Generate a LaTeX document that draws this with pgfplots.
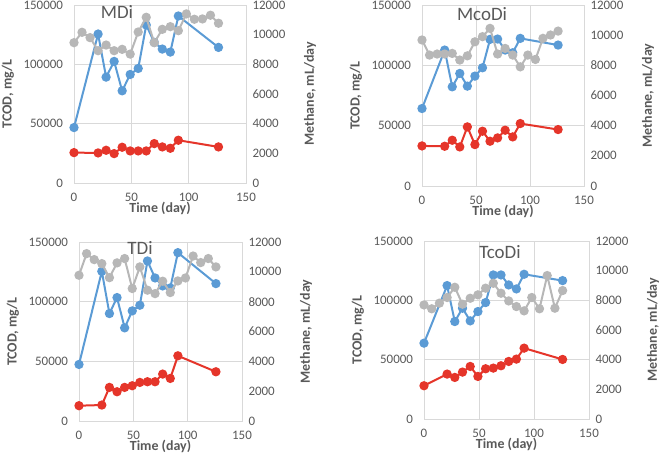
\documentclass[border=0pt]{standalone}
\usepackage{fontspec}
\setmainfont{Carlito}
\usepackage{pgfplots}
\pgfplotsset{compat=1.18}
\definecolor{cblue}{HTML}{5B9BD5}
\definecolor{cred}{HTML}{E5352A}
\definecolor{cgrey}{HTML}{B7B7B7}
\definecolor{ctxt}{HTML}{595959}
\definecolor{cgrid}{HTML}{D9D9D9}
\pgfplotsset{
  base/.style={scale only axis, xmin=0, xmax=150, clip=false,
    font=\fontsize{13}{15}\selectfont,
    scaled y ticks=false, scaled x ticks=false,
    tick style={draw=none},
    ticklabel style={color=ctxt, font=\fontsize{13}{15}\selectfont},
    label style={color=ctxt, font=\fontsize{14}{16}\selectfont\bfseries},
  },
  leftax/.style={base, ymin=0, ymax=150000,
    ytick={0,50000,100000,150000}, yticklabels={0,50000,100000,150000},
    xtick={0,50,100,150}, xticklabels={0,50,100,150},
    grid=major, major grid style={cgrid, line width=0.8pt},
    axis line style={cgrid, line width=0.8pt},
    yticklabel style={xshift=-7.5bp},
    xticklabel style={yshift=-6.5bp},
    xlabel={Time (day)}, ylabel={TCOD, mg/L},
    xlabel style={at={([yshift=-18.5bp]axis description cs:0.5,0)}, anchor=north, inner sep=0pt},
    ylabel style={at={([xshift=-66bp]axis description cs:0,0.5)}, anchor=center},
  },
  rightax/.style={base, ymin=0, ymax=12000,
    ytick={0,2000,4000,6000,8000,10000,12000},
    yticklabels={0,2000,4000,6000,8000,10000,12000},
    axis x line=none, axis y line*=right,
    axis line style={cgrid, line width=0.8pt},
    yticklabel style={xshift=3bp},
    ylabel={Methane, mL/day},
    ylabel style={at={([xshift=64bp]axis description cs:1,0.5)}, anchor=center},
  },
  bl/.style={color=cblue, line width=2bp, mark=*, mark size=3.6bp, mark options={solid, fill=cblue, draw=cblue}},
  rd/.style={color=cred, line width=2bp, mark=*, mark size=3.6bp, mark options={solid, fill=cred, draw=cred}},
  gr/.style={color=cgrey, line width=2bp, mark=*, mark size=3.6bp, mark options={solid, fill=cgrey, draw=cgrey}},
}
\newcommand{\ttl}[1]{{\color{ctxt}\fontsize{19}{21}\selectfont #1}}
\begin{document}
\begin{tikzpicture}
\useasboundingbox (0,0) rectangle (660bp,460bp);
% ---------------- MDi
\begin{axis}[leftax, at={(74bp,277bp)}, anchor=south west, width=172bp, height=178bp]
\addplot[bl] coordinates {(0,46720) (21,125530) (28,89220) (35,102450) (42,77680) (49,91470) (56,96540) (63,133130) (70,118490) (77,112860) (84,110330) (91,140730) (126,114270)};
\addplot[rd] coordinates {(0,25610) (21,25330) (28,27580) (35,24770) (42,30120) (49,27020) (56,27020) (63,27020) (70,33210) (77,30400) (84,29270) (91,36030) (126,30400)};
\end{axis}
\begin{axis}[rightax, at={(74bp,277bp)}, anchor=south west, width=172bp, height=178bp]
\addplot[gr] coordinates {(0,9460) (7,10160) (14,9800) (21,8920) (28,9300) (35,8920) (42,9010) (49,8690) (56,10180) (63,11170) (70,9460) (77,10360) (84,10540) (91,10270) (98,11400) (105,11040) (112,11060) (119,11310) (126,10770)};
\end{axis}
% ---------------- McoDi
\begin{axis}[leftax, at={(422bp,274bp)}, anchor=south west, width=162bp, height=181bp]
\addplot[bl] coordinates {(0,64210) (21,112650) (28,82200) (35,93270) (42,82760) (49,91060) (56,97980) (63,121510) (70,121780) (77,112650) (84,110430) (91,122340) (126,116800)};
\addplot[rd] coordinates {(0,33210) (21,32940) (28,37920) (35,32380) (42,48990) (49,34320) (56,45390) (63,37090) (70,39860) (77,46220) (84,40690) (91,51760) (126,46780)};
\end{axis}
\begin{axis}[rightax, at={(422bp,274bp)}, anchor=south west, width=162bp, height=181bp]
\addplot[gr] coordinates {(0,9680) (7,8680) (14,8750) (21,8750) (28,8790) (35,8350) (42,8630) (49,9560) (56,9900) (63,10450) (70,8750) (77,9120) (84,8680) (91,7900) (98,8680) (105,8390) (112,9790) (119,10010) (126,10270)};
\end{axis}
% ---------------- TDi
\begin{axis}[leftax, at={(79bp,39bp)}, anchor=south west, width=163bp, height=179bp]
\addplot[bl] coordinates {(0,47390) (21,125450) (28,90050) (35,103430) (42,78060) (49,92280) (56,97020) (63,134090) (70,119880) (77,113190) (84,111510) (91,141060) (126,115140)};
\addplot[rd] coordinates {(0,12820) (21,13380) (28,28160) (35,24530) (42,28160) (49,29550) (56,32340) (63,32900) (70,32900) (77,39310) (84,35680) (91,54640) (126,41260)};
\end{axis}
\begin{axis}[rightax, at={(79bp,39bp)}, anchor=south west, width=163bp, height=179bp]
\addplot[gr] coordinates {(0,9770) (7,11220) (14,10820) (21,10550) (28,9610) (35,10600) (42,10890) (49,8880) (56,10330) (63,8770) (70,8540) (77,9370) (84,8610) (91,9390) (98,9590) (105,11060) (112,10620) (119,10890) (126,10330)};
\end{axis}
% ---------------- TcoDi
\begin{axis}[leftax, at={(424bp,41bp)}, anchor=south west, width=165bp, height=178bp]
\addplot[bl] coordinates {(0,63920) (21,112420) (28,82140) (35,93360) (42,82700) (49,90550) (56,98120) (63,121390) (70,121390) (77,112980) (84,109620) (91,121950) (126,116620)};
\addplot[rd] coordinates {(0,28030) (21,37850) (28,35040) (35,39530) (42,44290) (49,35880) (56,42330) (63,42890) (70,44860) (77,48500) (84,50460) (91,59710) (126,50180)};
\end{axis}
\begin{axis}[rightax, at={(424bp,41bp)}, anchor=south west, width=165bp, height=178bp]
\addplot[gr] coordinates {(0,7690) (7,7430) (14,7810) (21,8190) (28,8880) (35,7740) (42,8140) (49,8370) (56,8820) (63,9150) (70,8480) (77,7960) (84,7580) (91,7290) (98,8190) (105,7430) (112,9670) (119,7470) (126,8660)};
\end{axis}
% titles
\node at (117bp,448bp) {\ttl{MDi}};
\node at (482bp,446bp) {\ttl{McoDi}};
\node at (140bp,212bp) {\ttl{TDi}};
\node at (500bp,208bp) {\ttl{TcoDi}};
\end{tikzpicture}
\end{document}
